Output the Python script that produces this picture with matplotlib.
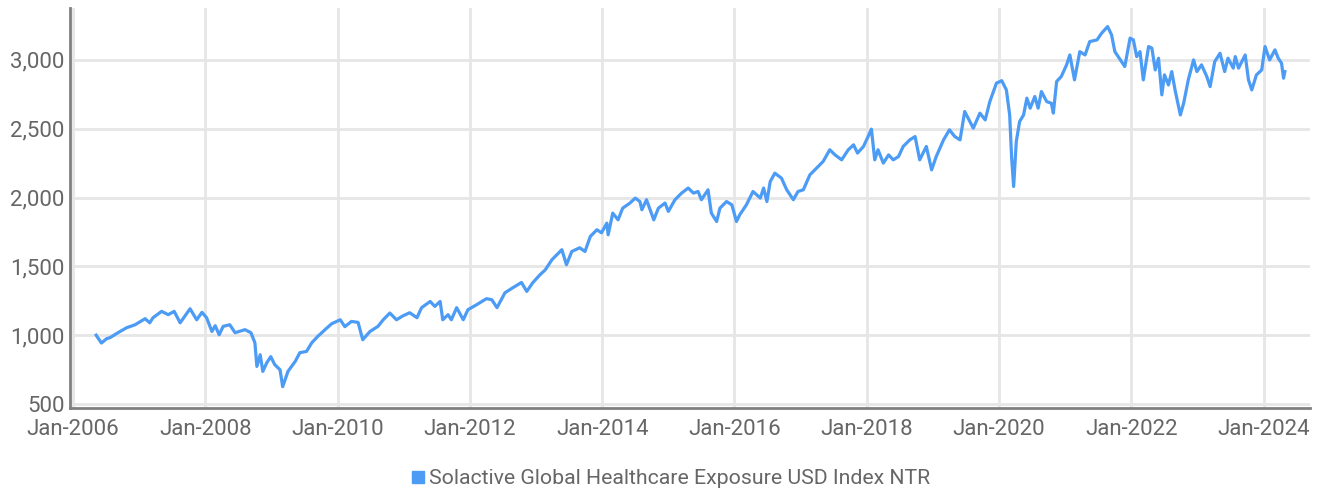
import matplotlib
matplotlib.use("Agg")
import matplotlib.pyplot as plt
from matplotlib.lines import Line2D

# index level (decimal year, value)
years = [
    2006.35, 2006.43, 2006.51, 2006.56, 2006.68, 2006.81, 2006.94, 2007.09, 2007.16, 2007.21,
    2007.34, 2007.44, 2007.53, 2007.62, 2007.77, 2007.87, 2007.95, 2008.02, 2008.10, 2008.15,
    2008.21, 2008.27, 2008.37, 2008.45, 2008.60, 2008.69, 2008.75, 2008.78, 2008.83, 2008.87,
    2008.93, 2008.99, 2009.05, 2009.13, 2009.17, 2009.25, 2009.36, 2009.43, 2009.53, 2009.61,
    2009.70, 2009.81, 2009.91, 2010.04, 2010.11, 2010.21, 2010.31, 2010.38, 2010.49, 2010.61,
    2010.69, 2010.79, 2010.89, 2010.99, 2011.09, 2011.20, 2011.27, 2011.40, 2011.47, 2011.55,
    2011.59, 2011.67, 2011.72, 2011.80, 2011.90, 2011.97, 2012.10, 2012.25, 2012.33, 2012.41,
    2012.53, 2012.65, 2012.78, 2012.86, 2012.95, 2013.06, 2013.14, 2013.24, 2013.39, 2013.46,
    2013.54, 2013.66, 2013.74, 2013.82, 2013.92, 2013.99, 2014.07, 2014.09, 2014.16, 2014.24,
    2014.31, 2014.42, 2014.50, 2014.57, 2014.60, 2014.67, 2014.78, 2014.85, 2014.95, 2015.00,
    2015.10, 2015.20, 2015.30, 2015.38, 2015.45, 2015.50, 2015.60, 2015.65, 2015.73, 2015.78,
    2015.88, 2015.96, 2016.03, 2016.08, 2016.18, 2016.28, 2016.39, 2016.44, 2016.49, 2016.54,
    2016.61, 2016.71, 2016.79, 2016.89, 2016.96, 2017.04, 2017.14, 2017.24, 2017.34, 2017.44,
    2017.52, 2017.62, 2017.72, 2017.80, 2017.86, 2017.95, 2018.02, 2018.07, 2018.12, 2018.17,
    2018.25, 2018.33, 2018.40, 2018.48, 2018.55, 2018.65, 2018.73, 2018.80, 2018.90, 2018.98,
    2019.05, 2019.16, 2019.25, 2019.33, 2019.41, 2019.48, 2019.61, 2019.71, 2019.79, 2019.86,
    2019.96, 2020.04, 2020.11, 2020.16, 2020.19, 2020.22, 2020.26, 2020.31, 2020.37, 2020.42,
    2020.47, 2020.54, 2020.59, 2020.64, 2020.72, 2020.79, 2020.82, 2020.87, 2020.94, 2021.02,
    2021.07, 2021.14, 2021.22, 2021.30, 2021.37, 2021.48, 2021.55, 2021.64, 2021.70, 2021.75,
    2021.80, 2021.90, 2021.98, 2022.03, 2022.08, 2022.13, 2022.18, 2022.26, 2022.31, 2022.36,
    2022.41, 2022.46, 2022.50, 2022.56, 2022.61, 2022.66, 2022.74, 2022.79, 2022.86, 2022.94,
    2022.99, 2023.06, 2023.14, 2023.19, 2023.26, 2023.34, 2023.41, 2023.46, 2023.54, 2023.57,
    2023.62, 2023.72, 2023.77, 2023.82, 2023.89, 2023.97, 2024.02, 2024.09, 2024.17, 2024.22,
    2024.27, 2024.30, 2024.32,
]
values = [
    1000, 943, 975, 982, 1018, 1054, 1076, 1120, 1090, 1127,
    1173, 1149, 1173, 1090, 1192, 1112, 1166, 1127, 1027, 1069,
    1003, 1064, 1076, 1018, 1040, 1018, 945, 773, 858, 737,
    800, 844, 786, 749, 626, 737, 810, 873, 882, 945,
    991, 1040, 1083, 1112, 1062, 1100, 1093, 967, 1027, 1064,
    1112, 1161, 1112, 1141, 1163, 1127, 1200, 1245, 1209, 1245,
    1112, 1149, 1112, 1200, 1112, 1185, 1221, 1265, 1258, 1200,
    1308, 1345, 1383, 1318, 1381, 1439, 1475, 1548, 1621, 1512,
    1608, 1635, 1608, 1717, 1766, 1744, 1814, 1729, 1887, 1838,
    1923, 1960, 1996, 1971, 1911, 1984, 1838, 1923, 1960, 1899,
    1984, 2032, 2069, 2032, 2044, 1984, 2056, 1887, 1826, 1923,
    1971, 1947, 1826, 1875, 1947, 2044, 1996, 2069, 1971, 2116,
    2177, 2141, 2056, 1984, 2044, 2056, 2165, 2214, 2262, 2347,
    2310, 2274, 2347, 2383, 2323, 2371, 2443, 2497, 2274, 2347,
    2250, 2310, 2274, 2298, 2371, 2419, 2443, 2274, 2371, 2201,
    2298, 2419, 2492, 2443, 2419, 2625, 2504, 2613, 2564, 2697,
    2831, 2849, 2782, 2600, 2286, 2080, 2407, 2552, 2600, 2722,
    2649, 2734, 2649, 2770, 2697, 2685, 2613, 2843, 2879, 2964,
    3036, 2855, 3060, 3036, 3133, 3145, 3194, 3242, 3182, 3060,
    3024, 2952, 3158, 3145, 3024, 3060, 2855, 3097, 3085, 2927,
    3012, 2746, 2891, 2818, 2915, 2782, 2600, 2685, 2855, 3000,
    2915, 2964, 2879, 2806, 2988, 3048, 2915, 3012, 2940, 3024,
    2940, 3036, 2855, 2782, 2891, 2927, 3097, 3000, 3073, 3012,
    2976, 2867, 2915,
]
series_name = "Solactive Global Healthcare Exposure USD Index NTR"
x_ticks = [2006, 2008, 2010, 2012, 2014, 2016, 2018, 2020, 2022, 2024]
x_labels = ["Jan-" + str(y) for y in x_ticks]
y_ticks = [500, 1000, 1500, 2000, 2500, 3000]

line_color = "#4c9bf5"
text_color = "#666666"

plt.rcParams["font.family"] = ["Roboto", "DejaVu Sans"]

fig = plt.figure(figsize=(13.17, 4.93), dpi=100)
ax = fig.add_axes([70 / 1317, 1 - 408 / 493, 1240 / 1317, 400 / 493])

ax.plot(years, values, color=line_color, linewidth=2.3, solid_joinstyle="round")

ax.set_xlim(2005.955, 2024.70)
ax.set_ylim(471, 3377)
ax.set_xticks(x_ticks)
ax.set_xticklabels(x_labels)
ax.set_yticks(y_ticks)
ax.set_yticklabels([f"{v:,}" for v in y_ticks])

ax.grid(True, color="#e6e6e6", linewidth=2)
ax.set_axisbelow(True)
ax.tick_params(length=0, labelsize=16, colors=text_color)
ax.tick_params(axis="x", pad=8)
ax.tick_params(axis="y", pad=4)

for side in ["top", "right"]:
    ax.spines[side].set_visible(False)
for side in ["left", "bottom"]:
    ax.spines[side].set_color("#808080")
    ax.spines[side].set_linewidth(2)

handle = Line2D([], [], marker="s", linestyle="none", color=line_color, markersize=8)
fig.legend([handle], [series_name], loc="center", bbox_to_anchor=(670 / 1317, 1 - 479 / 493),
           frameon=False, fontsize=15.3, labelcolor=text_color, handletextpad=0.1,
           handlelength=0.8, borderpad=0)

fig.savefig("out.png", dpi=100)
